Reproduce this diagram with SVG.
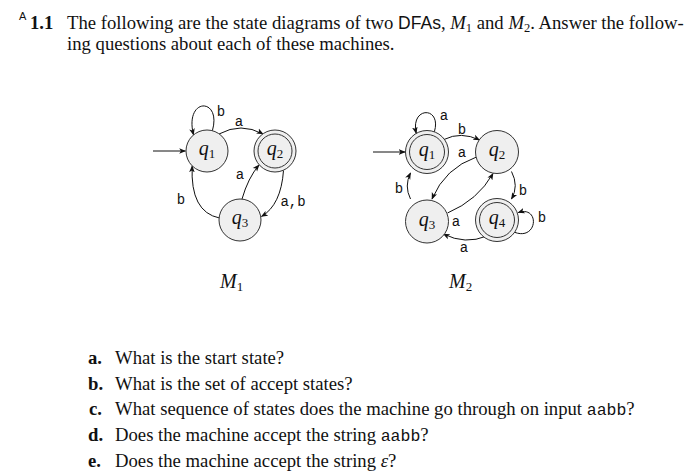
<svg xmlns="http://www.w3.org/2000/svg" width="700" height="475" viewBox="0 0 700 475">
<style>
.t{font-family:"Liberation Serif",serif;font-size:18.7px;fill:#111}
.b{font-weight:bold}
.sans{font-family:"Liberation Sans",sans-serif}
.mono{font-family:"Liberation Mono",monospace}
.it{font-style:italic}
.node{fill:#efefef;stroke:#333;stroke-width:1}
.nl{font-family:"Liberation Serif",serif;font-style:italic;font-size:20px;fill:#111;text-anchor:middle}
.sub{font-style:normal;font-size:13px}
.lbl{font-family:"Liberation Mono",monospace;font-size:14px;fill:#111;text-anchor:middle}
.e{fill:none;stroke:#111;stroke-width:1;marker-end:url(#ah)}
.ml{font-family:"Liberation Serif",serif;font-style:italic;font-size:20px;fill:#111}
</style>
<defs>
<marker id="ah" viewBox="0 0 10 10" refX="9" refY="5" markerWidth="7" markerHeight="7" markerUnits="userSpaceOnUse" orient="auto">
<path d="M0,1 L10,5 L0,9 L2.5,5 Z" fill="#111"/>
</marker>
</defs>
<rect width="700" height="475" fill="#fff"/>
<g id="title">
<text x="19" y="20" font-family="Liberation Sans, sans-serif" font-size="11" fill="#111">A</text>
<text x="30" y="29" class="t b">1.1</text>
<text x="67" y="29" class="t">The following are the state diagrams of two <tspan class="sans" font-size="17.5">DFAs</tspan>, <tspan class="it">M</tspan><tspan font-size="12.5" dy="3">1</tspan><tspan dy="-3"> and </tspan><tspan class="it">M</tspan><tspan font-size="12.5" dy="3">2</tspan><tspan dy="-3">. Answer the follow-</tspan></text>
<text x="67" y="50" class="t">ing questions about each of these machines.</text>
</g>
<g id="connectors">
<path class="e" d="M153,151 L185.5,151"/>
<path class="e" d="M212.4,130.7 C222,97 184,97 193.5,134.9"/>
<path class="e" d="M219,134 Q241,122 263,134"/>
<path class="e" d="M242,199 Q248,178 259,165"/>
<path class="e" d="M283.5,170.5 Q281,205 261.5,216.5"/>
<path class="e" d="M219.5,218 Q190,212 192.2,166"/>
<path class="e" d="M373,152 L405,152"/>
<path class="e" d="M434.4,131.7 C442,106 410,106 416.2,133.3"/>
<path class="e" d="M444,139.5 Q461,131 479.5,140"/>
<path class="e" d="M476.5,157 Q445,168 432,199"/>
<path class="e" d="M447.5,213 Q478,200 493,173.5"/>
<path class="e" d="M410.5,199 Q404,186 410.5,173"/>
<path class="e" d="M511.5,171.5 Q519,186 511.5,199"/>
<path class="e" d="M514.6,232.3 C538,241 540,205 518.2,212.6"/>
<path class="e" d="M487,236 Q465,245 443.5,234"/>
</g>
<g id="edge-labels">
<text x="221" y="116" class="lbl">b</text>
<text x="239" y="126" class="lbl">a</text>
<text x="240" y="179" class="lbl">a</text>
<text x="293" y="206" class="lbl">a,b</text>
<text x="181" y="204" class="lbl">b</text>
<text x="444" y="120" class="lbl">a</text>
<text x="462" y="134" class="lbl">b</text>
<text x="462" y="157" class="lbl">a</text>
<text x="456" y="226" class="lbl">a</text>
<text x="399" y="193" class="lbl">b</text>
<text x="523" y="195" class="lbl">b</text>
<text x="542" y="222" class="lbl">b</text>
<text x="464" y="252" class="lbl">a</text>
</g>
<g id="m1-q1"><circle class="node" cx="207" cy="151" r="21"/><text class="nl" x="207" y="155">q<tspan class="sub" dy="3">1</tspan></text></g>
<g id="m1-q2"><circle class="node" cx="275" cy="151" r="21"/><circle class="node" cx="275" cy="151" r="17"/><text class="nl" x="275" y="155">q<tspan class="sub" dy="3">2</tspan></text></g>
<g id="m1-q3"><circle class="node" cx="240" cy="220" r="21"/><text class="nl" x="240" y="224">q<tspan class="sub" dy="3">3</tspan></text></g>
<g id="m2-q1"><circle class="node" cx="427" cy="152" r="21.5"/><circle class="node" cx="427" cy="152" r="17.5"/><text class="nl" x="427" y="156">q<tspan class="sub" dy="3">1</tspan></text></g>
<g id="m2-q2"><circle class="node" cx="497" cy="152" r="21.5"/><text class="nl" x="497" y="156">q<tspan class="sub" dy="3">2</tspan></text></g>
<g id="m2-q3"><circle class="node" cx="427" cy="221.5" r="21.5"/><text class="nl" x="427" y="225.5">q<tspan class="sub" dy="3">3</tspan></text></g>
<g id="m2-q4"><circle class="node" cx="497" cy="220" r="21.5"/><circle class="node" cx="497" cy="220" r="17.5"/><text class="nl" x="497" y="224">q<tspan class="sub" dy="3">4</tspan></text></g>
<g id="machine-labels">
<text class="ml" x="220" y="288">M<tspan class="sub" dy="3">1</tspan></text>
<text class="ml" x="449" y="288">M<tspan class="sub" dy="3">2</tspan></text>
</g>
<g id="questions">
<text x="88" y="364" class="t b">a.</text><text x="115" y="364" class="t">What is the start state?</text>
<text x="88" y="390" class="t b">b.</text><text x="115" y="390" class="t">What is the set of accept states?</text>
<text x="89" y="415" class="t b">c.</text><text x="115" y="415" class="t">What sequence of states does the machine go through on input <tspan class="mono" font-size="16.5">aabb</tspan>?</text>
<text x="88" y="441" class="t b">d.</text><text x="115" y="441" class="t">Does the machine accept the string <tspan class="mono" font-size="16.5">aabb</tspan>?</text>
<text x="88" y="467" class="t b">e.</text><text x="115" y="467" class="t">Does the machine accept the string <tspan class="it">ε</tspan>?</text>
</g>
</svg>
